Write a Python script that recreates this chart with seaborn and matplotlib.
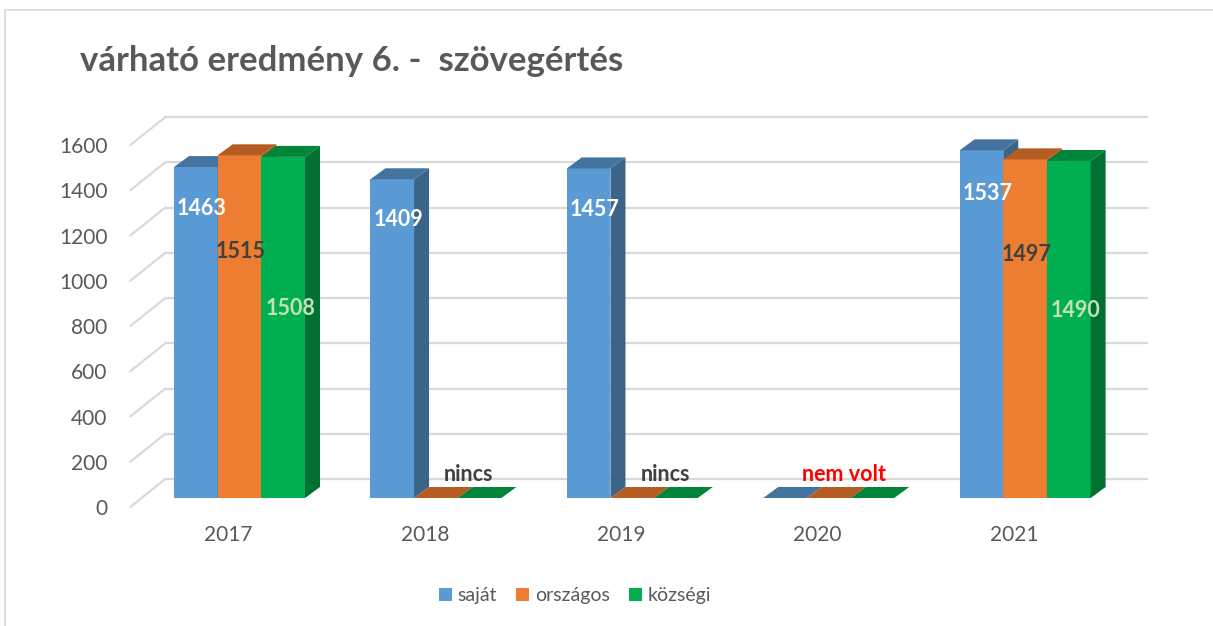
import numpy as np
import pandas as pd
import matplotlib
matplotlib.use("Agg")
import matplotlib.pyplot as plt
import matplotlib.transforms as mtransforms
from matplotlib.patches import Polygon, Rectangle
from matplotlib.lines import Line2D
import seaborn as sns

# ---------------- data ----------------
years = ["2017", "2018", "2019", "2020", "2021"]
series = ["saját", "országos", "községi"]
sajat = [1463, 1409, 1457, 0, 1537]
orszagos = [1515, 0, 0, 0, 1497]
kozsegi = [1508, 0, 0, 0, 1490]
notes = ["", "nincs", "nincs", "nem volt", ""]
y_ticks = [0, 200, 400, 600, 800, 1000, 1200, 1400, 1600]
title = "várható eredmény 6. -  szövegértés"

# ---------------- style ----------------
front_colors = ["#5b9bd5", "#ed7d31", "#00b050"]
top_colors = ["#44739f", "#b45c22", "#00853b"]
side_colors = ["#3a6488", "#a65420", "#007033"]
label_colors = ["#ffffff", "#404040", "#c5e0b4"]
label_frac = [0.875, 0.72, 0.555]        # label height as share of bar height
label_dx_px = [6, 1, 7]
note_style = {"nincs": ("#404040", 33), "nem volt": ("#ff0000", 15)}
grid_color = "#d9d9d9"
text_color = "#595959"

sns.set_theme(style="white")
plt.rcParams["font.family"] = ["Lato", "DejaVu Sans"]

W, H = 1213, 626
fig = plt.figure(figsize=(W / 100, H / 100), dpi=100)
fig.patch.set_facecolor("white")

SCALE = 0.2262            # px per value unit
SPAN = 1600 * SCALE
PLOT_W = 982


def rect(left, bottom_y, width, height):
    return [left / W, 1 - bottom_y / H, width / W, height / H]


ax_back = fig.add_axes(rect(165.3, 479, PLOT_W, SPAN))
ax_front = fig.add_axes(rect(130.3, 507, PLOT_W, SPAN))
ax = fig.add_axes(rect(141.3, 498, PLOT_W, SPAN))

for a in (ax_back, ax_front, ax):
    a.set_xlim(-0.5, 4.5)
    a.set_ylim(0, 1600)
    a.patch.set_visible(False)
    for sp in a.spines.values():
        sp.set_visible(False)

# back wall gridlines
ax_back.set_xticks([])
ax_back.set_yticks([])
for v in y_ticks:
    ax_back.axhline(v, color=grid_color, lw=1.6, clip_on=False, zorder=0)

# front axis labels
ax_front.set_yticks(y_ticks)
ax_front.set_yticklabels([str(v) for v in y_ticks])
ax_front.set_xticks(range(len(years)))
ax_front.set_xticklabels(years)
ax_front.tick_params(axis="y", length=0, pad=16.5, labelsize=15, labelcolor=text_color)
ax_front.tick_params(axis="x", length=0, pad=13, labelsize=15, labelcolor=text_color)

# side-wall diagonals
inv = fig.transFigure.inverted()
for v in y_ticks:
    p0 = inv.transform(ax_front.transData.transform((-0.5, v)))
    p1 = inv.transform(ax_back.transData.transform((-0.5, v)))
    fig.add_artist(Line2D([p0[0], p1[0]], [p0[1], p1[1]], color=grid_color,
                          lw=1.6, transform=fig.transFigure, zorder=0))

# bars
df = pd.DataFrame({
    "év": years * 3,
    "sorozat": np.repeat(series, len(years)),
    "érték": sajat + orszagos + kozsegi,
})
sns.barplot(data=df, x="év", y="érték", hue="sorozat", hue_order=series,
            palette=dict(zip(series, front_colors)), width=0.667, saturation=1,
            linewidth=0, ax=ax, legend=True, err_kws={"linewidth": 0})
ax.set_xlim(-0.5, 4.5)
ax.set_ylim(0, 1600)
ax.set_xticks([])
ax.set_yticks([])
ax.set_xlabel("")
ax.set_ylabel("")

handles, labels = ax.get_legend_handles_labels()
if ax.get_legend() is not None:
    ax.get_legend().remove()

# depth in data units
px_per_x = ax.bbox.width / 5.0
dx = 15 / px_per_x
dy = 11 / SCALE

items = []
for s_idx, cont in enumerate(ax.containers):
    for c_idx, bar in enumerate(cont):
        items.append((bar.get_x(), s_idx, c_idx, bar))
items.sort(key=lambda t: t[0])

for i, (x0, s_idx, c_idx, bar) in enumerate(items):
    h = bar.get_height()
    if not np.isfinite(h):
        h = 0
    w = bar.get_width()
    x1 = x0 + w
    base = 10 + 3 * i
    bar.set_zorder(base)
    side = Polygon([(x1, 0), (x1 + dx, dy), (x1 + dx, h + dy), (x1, h)],
                   closed=True, facecolor=side_colors[s_idx], edgecolor="none",
                   zorder=base + 1, clip_on=False)
    top = Polygon([(x0, h), (x0 + dx, h + dy), (x1 + dx, h + dy), (x1, h)],
                  closed=True, facecolor=top_colors[s_idx], edgecolor="none",
                  zorder=base + 2, clip_on=False)
    ax.add_patch(side)
    ax.add_patch(top)

# value labels
for s_idx, cont in enumerate(ax.containers):
    for c_idx, bar in enumerate(cont):
        h = bar.get_height()
        if not np.isfinite(h) or h <= 0:
            continue
        tr = mtransforms.offset_copy(ax.transData, fig=fig, x=label_dx_px[s_idx], y=0, units="dots")
        ax.text(bar.get_x() + bar.get_width() / 2, h * label_frac[s_idx], f"{int(h)}",
                transform=tr, ha="center", va="center", fontsize=15.5, fontweight="bold",
                color=label_colors[s_idx], zorder=200)

# notes for missing values
for c_idx, note in enumerate(notes):
    if not note:
        continue
    col, off = note_style[note]
    tr = mtransforms.offset_copy(ax.transData, fig=fig, x=off, y=17, units="dots")
    ax.text(c_idx, 0, note, transform=tr, ha="center", va="baseline", fontsize=15.5,
            fontweight="bold", color=col, zorder=200)

# legend
fig.legend(handles, labels, loc="center", bbox_to_anchor=(575 / W, 1 - 596 / H),
           ncol=3, frameon=False, fontsize=14, handlelength=0.65, handleheight=0.65,
           handletextpad=0.3, columnspacing=1.0, labelcolor=text_color)

# title
fig.text(80 / W, 1 - 71 / H, title, fontsize=25, fontweight="bold",
         color=text_color, va="baseline", ha="left")

# outer frame
fig.add_artist(Rectangle((5 / W, -0.1), 1.2, 1 - 10 / H + 0.1, transform=fig.transFigure,
                         fill=False, edgecolor=grid_color, lw=1.2, zorder=-1))

fig.savefig("out.png", dpi=100, facecolor="white")
